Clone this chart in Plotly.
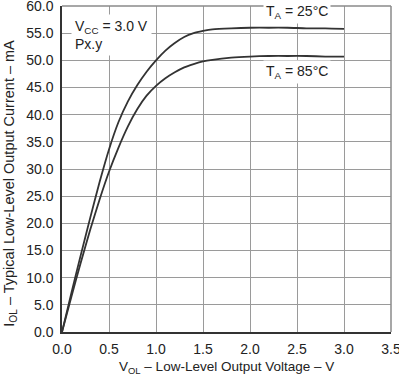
import plotly.graph_objects as go

# Data
v_ol = [0, 0.1, 0.2, 0.3, 0.4, 0.5, 0.6, 0.7, 0.8, 0.9, 1.0, 1.1, 1.2, 1.3, 1.4,
        1.5, 1.6, 1.8, 2.0, 2.2, 2.4, 2.6, 2.8, 3.0]
i_ol_25c = [0, 7.2, 14.2, 21.0, 27.6, 33.6, 38.6, 42.4, 45.4, 47.9, 50.0, 51.8,
            53.2, 54.3, 55.0, 55.4, 55.7, 55.9, 56.0, 56.0, 56.0, 55.9, 55.9, 55.8]
i_ol_85c = [0, 6.5, 12.8, 18.8, 24.4, 29.5, 33.9, 37.8, 41.0, 43.5, 45.3, 46.7,
            47.8, 48.7, 49.3, 49.8, 50.1, 50.5, 50.7, 50.8, 50.8, 50.8, 50.7, 50.7]

x_ticks = [0.0, 0.5, 1.0, 1.5, 2.0, 2.5, 3.0, 3.5]
y_ticks = [0, 5, 10, 15, 20, 25, 30, 35, 40, 45, 50, 55, 60]

FONT = "Liberation Sans, Arial, sans-serif"
TXT = "#222222"
GRID = "#9a9a9a"
CURVE = "#333333"

fig = go.Figure()
for ys in (i_ol_25c, i_ol_85c):
    fig.add_trace(go.Scatter(x=v_ol, y=ys, mode="lines",
                             line=dict(color=CURVE, width=1.8, shape="spline", smoothing=0.6),
                             showlegend=False, hoverinfo="skip"))

fig.update_layout(
    width=399, height=377,
    margin=dict(l=62, r=8, t=6, b=45, autoexpand=False),
    paper_bgcolor="white", plot_bgcolor="white",
    font=dict(family=FONT, size=14, color=TXT),
    xaxis=dict(range=[0, 3.5], tickvals=x_ticks, tickformat=".1f",
               showgrid=True, gridcolor=GRID, gridwidth=1,
               showline=True, linecolor="#333333", linewidth=1.5,
               zeroline=False, ticks="", ticklabelstandoff=3,
               ticklabeloverflow="allow", automargin=False),
    yaxis=dict(range=[0, 60], tickvals=y_ticks, tickformat=".1f",
               showgrid=True, gridcolor=GRID, gridwidth=1,
               showline=True, linecolor="#333333", linewidth=1.5,
               zeroline=False, ticks="", ticklabelstandoff=4,
               ticklabeloverflow="allow", automargin=False),
    shapes=[
        dict(type="line", xref="paper", yref="paper", x0=0, x1=1, y0=1, y1=1,
             line=dict(color="#8a8a8a", width=1.5)),
        dict(type="line", xref="paper", yref="paper", x0=1, x1=1, y0=0, y1=1,
             line=dict(color="#8a8a8a", width=1.5)),
    ],
    annotations=[
        dict(x=0.1, y=58.5, xref="x", yref="y", xanchor="left", yanchor="top",
             align="left", showarrow=False, bgcolor="white", borderpad=3,
             text="V<sub>CC</sub> = 3.0 V<br>Px.y", font=dict(size=14, color=TXT)),
        dict(x=2.5, y=56.6, xref="x", yref="y", xanchor="center", yanchor="bottom",
             showarrow=False, bgcolor="white", borderpad=2,
             text="T<sub>A</sub> = 25°C", font=dict(size=14, color=TXT)),
        dict(x=2.5, y=50.0, xref="x", yref="y", xanchor="center", yanchor="top",
             showarrow=False, bgcolor="white", borderpad=2,
             text="T<sub>A</sub> = 85°C", font=dict(size=14, color=TXT)),
        # axis titles
        dict(x=0.5, y=0, xref="paper", yref="paper", xanchor="center", yanchor="top",
             yshift=-25, showarrow=False,
             text="V<sub>OL</sub> – Low-Level Output Voltage – V", font=dict(size=13.5, color=TXT)),
        dict(x=0, y=0.455, xref="paper", yref="paper", xanchor="center", yanchor="middle",
             xshift=-52, showarrow=False, textangle=-90,
             text="I<sub>OL</sub> – Typical Low-Level Output Current – mA", font=dict(size=14.5, color=TXT)),
    ],
)

fig.write_html("out.html", config={"displayModeBar": False},
               post_script="document.body.style.margin='0';")
